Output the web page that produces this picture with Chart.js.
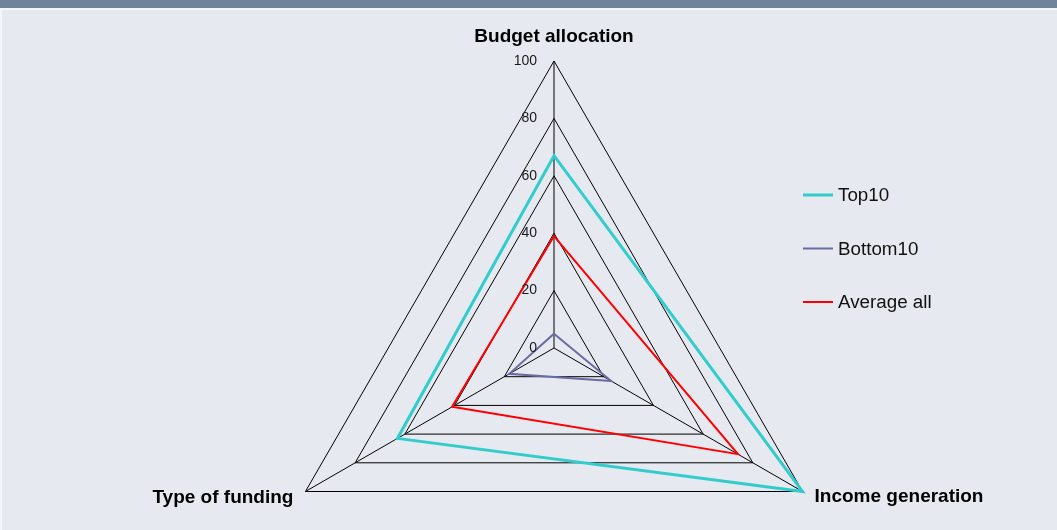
<!DOCTYPE html>
<html>
<head>
<meta charset="utf-8">
<script src="https://cdn.jsdelivr.net/npm/chart.js@4"></script>
<style>
  html, body { margin: 0; padding: 0; }
  body { width: 1057px; height: 530px; background: #f4f6f9; position: relative; overflow: hidden; }
  #bar { position: absolute; left: 0; top: 0; width: 1057px; height: 8px; background: #6f8499; }
  #panel { position: absolute; left: 2px; top: 10px; right: 0; bottom: 0; background: #e6eaf0; }
  #wrap { position: absolute; left: 0; top: 0; width: 1057px; height: 530px; }
</style>
</head>
<body>
<div id="bar"></div>
<div id="panel"></div>
<div id="wrap"><canvas id="chart" width="1057" height="530"></canvas></div>
<script>
// axes of the radar
const categories = ['Budget allocation', 'Income generation', 'Type of funding'];

// series values
const top10 = [67, 100, 63];
const bottom10 = [5, 23, 18];
const averageAll = [39, 74, 41];

const tickLabels = [0, 20, 40, 60, 80, 100];

// layout of the web (not data)
const CX = 554, CY = 348, R = 287;

// tick labels on the left of the vertical axis
const tickLabelPlugin = {
    id: 'tickLabelPlugin',
    afterDraw(chart) {
        const scale = chart.scales.r;
        const ctx = chart.ctx;
        ctx.save();
        ctx.font = '14px "Liberation Sans", Arial, sans-serif';
        ctx.fillStyle = '#1a1a1a';
        ctx.textAlign = 'right';
        ctx.textBaseline = 'middle';
        tickLabels.forEach(v => {
            const d = scale.getDistanceFromCenterForValue(v);
            ctx.fillText(String(v), scale.xCenter - 17, scale.yCenter - d);
        });
        ctx.restore();
    }
};

// category names at the corners
const pointLabelPlugin = {
    id: 'pointLabelPlugin',
    afterDraw(chart) {
        const scale = chart.scales.r;
        const ctx = chart.ctx;
        ctx.save();
        ctx.font = 'bold 19px "Liberation Sans", Arial, sans-serif';
        ctx.fillStyle = '#000';
        ctx.textBaseline = 'middle';
        categories.forEach((label, i) => {
            const p = scale.getPointPosition(i, scale.drawingArea);
            if (i === 0) {
                ctx.textAlign = 'center';
                ctx.fillText(label, p.x, p.y - 24);
            } else if (p.x > scale.xCenter) {
                ctx.textAlign = 'left';
                ctx.fillText(label, p.x + 12, p.y + 5);
            } else {
                ctx.textAlign = 'right';
                ctx.fillText(label, p.x - 12, p.y + 6);
            }
        });
        ctx.restore();
    }
};

// legend on the right
const legendPlugin = {
    id: 'legendPlugin',
    afterDraw(chart) {
        const ctx = chart.ctx;
        ctx.save();
        ctx.font = '18.8px "Liberation Sans", Arial, sans-serif';
        ctx.textAlign = 'left';
        ctx.textBaseline = 'middle';
        chart.data.datasets.forEach((ds, i) => {
            const y = 195 + i * 53.5;
            ctx.strokeStyle = ds.borderColor;
            ctx.lineWidth = ds.borderWidth;
            ctx.beginPath();
            ctx.moveTo(803, y);
            ctx.lineTo(833, y);
            ctx.stroke();
            ctx.fillStyle = '#111';
            ctx.fillText(ds.label, 838, y + 1);
        });
        ctx.restore();
    }
};

const ctx = document.getElementById('chart').getContext('2d');

const chart = new Chart(ctx, {
    type: 'radar',
    data: {
        labels: categories,
        datasets: [
            {
                label: 'Top10',
                data: top10,
                borderColor: '#33cccc',
                borderWidth: 3,
                fill: false,
                pointRadius: 0,
            },
            {
                label: 'Bottom10',
                data: bottom10,
                borderColor: '#6b6ba3',
                borderWidth: 2,
                fill: false,
                pointRadius: 0,
            },
            {
                label: 'Average all',
                data: averageAll,
                borderColor: '#ff0000',
                borderWidth: 2,
                fill: false,
                pointRadius: 0,
            }
        ]
    },
    options: {
        responsive: false,
        animation: false,
        plugins: {
            legend: { display: false },
            tooltip: { enabled: false },
        },
        elements: { line: { tension: 0 } },
        scales: {
            r: {
                min: 0,
                max: 100,
                ticks: { stepSize: 20, display: false },
                pointLabels: { display: false },
                grid: { color: '#000', lineWidth: 1 },
                angleLines: { color: '#000', lineWidth: 1 },
                afterFit: (scale) => {
                    scale.xCenter = CX;
                    scale.yCenter = CY;
                    scale.drawingArea = R;
                },
            },
        },
    },
    plugins: [tickLabelPlugin, pointLabelPlugin, legendPlugin],
});
</script>
</body>
</html>
